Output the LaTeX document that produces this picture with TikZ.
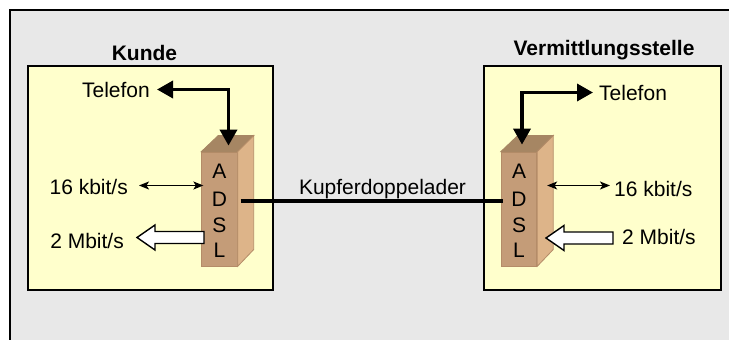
\documentclass[tikz,border=0pt]{standalone}
\usepackage{fontspec}
\setmainfont{Liberation Sans}
\usetikzlibrary{arrows.meta,calc}
\definecolor{bgGray}{HTML}{E8E8E8}
\definecolor{boxYellow}{HTML}{FFFFCC}
\definecolor{cubeFront}{HTML}{C49C78}
\definecolor{cubeTop}{HTML}{A68663}
\definecolor{cubeSide}{HTML}{DDB489}
\definecolor{cubeEdge}{HTML}{B48C68}
\begin{document}
\begin{tikzpicture}[x=1pt,y=-1pt,
  lbl/.style={font=\fontsize{21}{25}\selectfont, inner sep=0pt},
  ttl/.style={font=\fontsize{21}{25}\selectfont\bfseries, inner sep=0pt},
  site/.style={draw=black, line width=1.5pt, fill=boxYellow, minimum width=#1, minimum height=224pt, inner sep=0pt},
  cubefront/.style={fill=cubeFront, draw=cubeEdge, line width=0.8pt, minimum width=35.5pt, minimum height=114pt, inner sep=0pt},
  cubetop/.style={fill=cubeTop, draw=cubeTop, line width=0.8pt},
  cubeside/.style={fill=cubeSide, draw=cubeEdge, line width=0.8pt},
  thickconn/.style={line width=3.5pt, {Triangle[length=16pt,width=17pt]}-{Triangle[length=16pt,width=17pt]}},
  thinconn/.style={line width=1.4pt, {Stealth[length=10pt,width=8pt,inset=2.5pt]}-{Stealth[length=10pt,width=8pt,inset=2.5pt]}},
  hollow/.style={draw=black, fill=white, line width=1.4pt, line join=miter},
  culine/.style={line width=3.5pt}
]
\useasboundingbox (0,0) rectangle (729,340);
\begin{scope}
  \clip (0,0) rectangle (729,340);
  \draw[fill=bgGray, line width=1.5pt] (10,10) rectangle (760,370);
\end{scope}

% site boxes
\node[site=245pt] (kbox) at (150.5,178) {};
\node[site=237pt] (vbox) at (602.5,178) {};
\node[ttl, anchor=base] (kunde) at (144.5,60) {Kunde};
\node[ttl, anchor=base] (vst) at (604,55) {Vermittlungsstelle};

% left ADSL cube
\node[cubefront] (adslL) at (219.5,209) {};
\draw[cubetop] (adslL.north west) -- (adslL.north east) -- ++(16,-16) -- ++(-35.5,0) -- cycle;
\draw[cubeside] (adslL.north east) -- ++(16,-16) -- ++(0,114) -- (adslL.south east) -- cycle;
\node[lbl, anchor=base] (aL1) at (219.5,178) {A};
\node[lbl, anchor=base] (aL2) at (219.5,206) {D};
\node[lbl, anchor=base] (aL3) at (219.5,232) {S};
\node[lbl, anchor=base] (aL4) at (219.5,257) {L};

% right ADSL cube
\node[cubefront] (adslR) at (519,209) {};
\draw[cubetop] (adslR.north west) -- (adslR.north east) -- ++(16,-16) -- ++(-35.5,0) -- cycle;
\draw[cubeside] (adslR.north east) -- ++(16,-16) -- ++(0,114) -- (adslR.south east) -- cycle;
\node[lbl, anchor=base] (aR1) at (519,178) {A};
\node[lbl, anchor=base] (aR2) at (519,206) {D};
\node[lbl, anchor=base] (aR3) at (519,232) {S};
\node[lbl, anchor=base] (aR4) at (519,257) {L};

% labels
\node[lbl, anchor=base east] (telL) at (150,97) {Telefon};
\node[lbl, anchor=base west] (telR) at (599,100) {Telefon};
\node[lbl, anchor=base east] (k16L) at (128,194) {16 kbit/s};
\node[lbl, anchor=base west] (k16R) at (614,196) {16 kbit/s};
\node[lbl, anchor=base east] (m2L) at (124,248) {2 Mbit/s};
\node[lbl, anchor=base west] (m2R) at (622,244) {2 Mbit/s};
\node[lbl, anchor=base] (cu) at (382.5,194) {Kupferdoppelader};

% telephone connectors
\coordinate (tipL) at ($(adslL.north)+(9,-6)$);
\coordinate (tipR) at ($(adslR.north)+(3,-7)$);
\draw[thickconn] ([xshift=7pt]telL.east) -| (tipL);
\draw[thickconn] (tipR) |- ([xshift=-6pt]telR.west);

% 16 kbit/s connectors
\draw[thinconn] ([xshift=11pt,yshift=1pt]k16L.east) -- ([xshift=2pt,yshift=1pt]k16L.east -| adslL.west);
\draw[thinconn] ([xshift=10pt,yshift=3pt]k16R.west -| adslR.east) -- ([xshift=-4pt,yshift=3pt]k16R.west);

% 2 Mbit/s hollow arrows
\draw[hollow] (204,231.5) -- (155,231.5) -- (155,225) -- (137,237.5) -- (155,250) -- (155,243.5) -- (204,243.5) -- cycle;
\draw[hollow] (613,232) -- (564,232) -- (564,225.5) -- (546,238) -- (564,250.5) -- (564,244) -- (613,244) -- cycle;

% copper line
\draw[culine] ([xshift=3pt,yshift=8pt]adslL.east) -- ([xshift=2pt,yshift=8pt]adslR.west);
\end{tikzpicture}
\end{document}
